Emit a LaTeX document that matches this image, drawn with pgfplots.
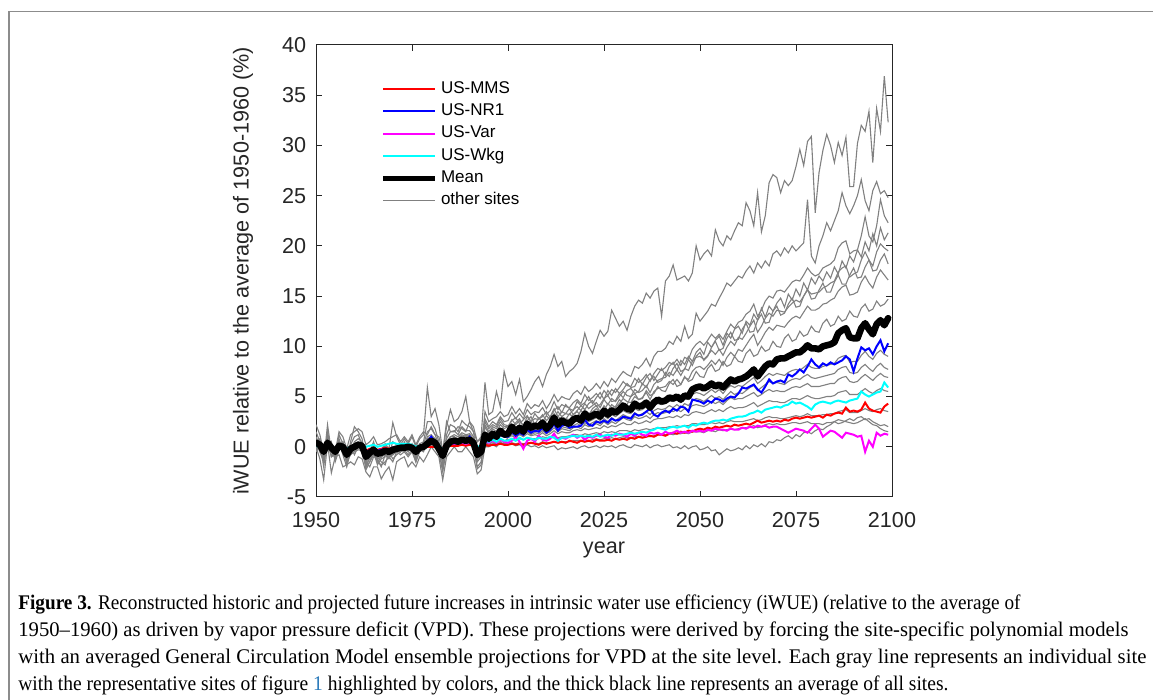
\documentclass[border=0pt]{standalone}
\usepackage{fontspec}
\setmainfont{Liberation Sans}
\newfontfamily\capfont{Liberation Serif}
\usepackage{graphicx}
\usepackage{pgfplots}
\usepackage{pgfplotstable}
\pgfplotsset{compat=1.18}
\definecolor{axgray}{RGB}{38,38,38}
\definecolor{linegray}{RGB}{128,128,128}
\definecolor{framegray}{RGB}{140,140,140}
\definecolor{linkblue}{RGB}{40,120,185}
\definecolor{cRed}{RGB}{255,0,0}
\definecolor{cBlue}{RGB}{0,0,255}
\definecolor{cMag}{RGB}{255,0,255}
\definecolor{cCyan}{RGB}{0,255,255}

% rows = series, columns = years (transposed below)
\pgfplotstableread[header=has colnames]{
name 1950 1951 1952 1953 1954 1955 1956 1957 1958 1959 1960 1961 1962 1963 1964 1965 1966 1967 1968 1969 1970 1971 1972 1973 1974 1975 1976 1977 1978 1979 1980 1981 1982 1983 1984 1985 1986 1987 1988 1989 1990 1991 1992 1993 1994 1995 1996 1997 1998 1999 2000 2001 2002 2003 2004 2005 2006 2007 2008 2009 2010 2011 2012 2013 2014 2015 2016 2017 2018 2019 2020 2021 2022 2023 2024 2025 2026 2027 2028 2029 2030 2031 2032 2033 2034 2035 2036 2037 2038 2039 2040 2041 2042 2043 2044 2045 2046 2047 2048 2049 2050 2051 2052 2053 2054 2055 2056 2057 2058 2059 2060 2061 2062 2063 2064 2065 2066 2067 2068 2069 2070 2071 2072 2073 2074 2075 2076 2077 2078 2079 2080 2081 2082 2083 2084 2085 2086 2087 2088 2089 2090 2091 2092 2093 2094 2095 2096 2097 2098 2099
g1 1.5 0.5 -1.5 2.2 -0.5 -1.0 1.2 0.3 -1.8 0.5 2.0 1.5 0.8 -1.5 -0.5 0.5 -1.0 -0.3 0.3 -0.2 2.4 1.0 0.2 0.8 0.3 1.0 0.0 0.8 1.2 5.9 3.0 3.8 2.2 -0.5 2.0 3.7 2.5 2.8 3.5 5.0 2.5 2.0 0.5 1.0 6.4 3.2 3.5 5.5 4.0 7.5 6.0 6.5 5.2 6.7 4.5 5.0 5.7 6.5 7.0 6.0 7.2 8.0 9.2 8.0 8.5 7.0 7.5 7.8 8.3 9.5 11.3 10.0 9.3 10.5 11.6 11.0 11.5 13.6 12.8 12.0 12.5 11.6 13.0 14.0 14.6 14.3 15.3 14.8 15.5 15.8 13.0 16.5 17.0 18.1 16.6 16.8 17.0 16.5 17.3 20.0 18.6 19.2 19.6 19.0 21.6 20.5 20.0 21.0 20.6 21.5 22.3 22.0 24.3 23.5 22.0 25.3 21.4 23.0 26.3 27.1 26.8 25.3 26.5 26.0 26.5 27.9 29.6 28.0 30.4 30.9 23.3 27.3 29.5 31.1 30.0 28.3 30.3 29.0 30.8 25.9 25.9 30.2 32.0 31.4 33.4 28.3 33.7 31.4 36.9 32.3
g2 1.0 0.2 -1.2 1.5 -0.3 -1.2 0.8 -0.5 -1.5 0.2 1.0 1.2 0.2 -2.0 -1.0 0.3 -1.5 -1.0 -0.5 -0.8 0.5 0.2 -0.5 0.5 -0.2 0.3 -1.0 0.3 0.5 2.5 2.5 1.8 0.5 -1.5 1.2 2.2 2.0 1.5 2.6 2.2 2.0 1.5 -1.0 -0.5 3.5 2.5 2.8 3.0 3.5 3.0 3.2 4.0 3.3 3.8 3.2 4.3 3.8 4.2 4.0 4.6 3.8 4.4 5.2 4.5 5.0 4.8 4.7 5.3 5.6 5.2 6.0 5.5 5.8 6.3 5.8 6.5 6.0 6.8 6.4 7.0 7.5 7.2 7.0 8.0 7.8 8.2 8.8 8.0 9.0 9.5 9.5 9.8 10.5 10.2 11.0 10.5 12.0 10.8 11.2 13.3 12.5 13.0 13.5 14.2 14.0 14.8 15.5 16.3 16.0 16.5 17.0 16.8 17.5 18.0 17.3 18.3 17.8 18.5 18.0 19.2 19.5 19.0 19.8 19.3 20.0 19.5 19.9 20.3 24.6 19.0 18.3 20.0 21.0 22.3 21.5 22.5 23.5 25.3 24.0 23.2 24.0 25.0 26.6 24.5 23.5 25.5 26.4 25.2 25.5 24.8
g3 0.8 0.5 -2.0 1.0 -1.0 -0.8 0.5 -0.8 -2.0 -0.5 0.5 0.8 0.5 -2.3 -1.5 -0.5 -1.8 -1.2 -1.0 -1.0 -0.8 -0.5 -0.3 0.0 -0.5 0.0 -1.2 -0.2 0.2 1.5 1.8 1.2 0.2 -1.8 0.8 1.5 1.6 1.2 2.0 1.6 1.6 1.0 -1.5 -1.0 2.8 2.0 2.5 2.2 3.0 2.5 2.6 3.4 2.8 3.3 2.8 3.7 3.2 3.5 3.4 3.9 3.2 3.6 4.5 3.7 4.2 4.0 3.9 4.4 4.7 4.3 5.2 4.6 4.9 5.3 4.8 5.6 5.1 5.7 5.4 5.9 6.5 6.1 6.0 6.8 6.4 6.7 7.2 6.5 7.3 7.8 7.6 7.9 8.4 8.2 8.7 8.1 8.9 8.7 9.7 10.2 10.5 10.1 10.6 11.2 10.8 11.2 10.7 11.5 12.2 11.8 12.4 12.6 13.2 13.5 14.2 13.0 13.6 14.5 15.0 14.8 15.5 15.6 15.4 15.9 16.4 16.6 16.5 17.1 17.8 17.3 17.0 17.2 17.8 18.0 18.2 18.6 19.8 20.3 20.5 19.2 19.5 19.6 21.0 22.9 21.0 20.4 22.0 24.6 23.0 22.3
g4 0.5 0.8 -1.0 0.8 0.2 -1.2 0.2 0.5 -1.2 -0.2 0.3 0.5 -0.2 -1.8 -1.2 -0.8 -1.3 -2.0 -0.8 -1.2 -0.5 -0.2 0.2 -0.5 0.3 -0.5 -0.8 0.2 -0.3 1.0 1.2 0.8 -0.3 -1.2 0.5 1.0 1.2 1.0 1.4 1.2 1.3 0.8 -1.2 -0.7 2.2 1.5 2.0 1.8 2.5 2.0 2.0 2.6 2.9 2.3 2.7 3.1 2.5 3.3 2.8 3.0 3.5 2.9 3.6 4.0 3.4 4.2 3.8 3.6 4.5 4.1 4.4 5.0 4.3 4.9 5.4 4.7 5.6 5.1 5.8 5.3 5.7 6.3 5.9 6.0 6.8 6.2 6.9 7.3 6.6 7.2 7.8 7.1 8.0 8.4 7.6 8.6 8.2 9.0 8.5 9.4 9.8 9.2 10.4 9.9 10.6 11.0 10.1 11.3 10.8 11.7 12.0 11.3 12.5 12.1 13.2 12.6 13.8 12.9 14.0 13.5 14.3 14.8 13.9 15.2 14.6 15.7 15.0 16.3 15.6 16.8 16.2 17.0 16.5 17.4 16.8 17.9 17.2 18.5 17.8 19.0 18.4 19.6 18.9 20.4 19.5 21.2 20.0 21.8 20.6 21.3
g5 -0.5 0.2 -0.8 -0.2 0.5 -1.5 -0.3 0.2 -1.0 -0.8 -0.5 0.2 -0.5 -1.5 -2.0 -1.0 -1.0 -1.5 -1.8 -0.5 -1.2 -0.8 -0.5 -0.3 -0.8 -0.3 -1.5 -0.5 -0.2 0.8 1.0 0.6 -0.5 -2.2 0.2 1.0 1.0 0.8 1.2 1.0 1.2 0.6 -2.0 -1.5 2.0 1.3 1.8 1.5 2.2 1.8 2.0 2.7 2.2 2.6 2.1 3.0 2.5 2.8 2.7 3.2 2.6 3.0 3.8 3.0 3.5 3.3 3.2 3.7 4.0 3.6 4.3 3.8 4.1 4.4 3.9 4.7 4.2 4.8 4.5 5.0 5.5 5.1 5.0 5.7 5.4 5.6 6.1 5.4 6.2 6.6 6.8 6.9 7.4 7.1 7.7 7.1 7.8 7.6 8.5 8.9 9.0 8.7 9.1 9.6 9.2 9.7 9.1 9.9 10.5 10.1 10.9 10.7 11.3 12.0 12.6 11.4 12.0 12.8 13.3 13.0 13.6 13.5 13.4 13.9 14.3 14.6 14.4 15.0 15.6 15.2 15.3 15.4 15.8 16.0 16.3 16.5 17.4 17.8 18.0 16.9 17.2 17.4 18.6 19.4 18.6 18.0 19.4 20.2 19.8 19.5
g6 2.2 1.2 -0.5 1.0 0.2 -0.5 1.5 1.0 -0.2 1.2 1.5 1.8 1.5 0.2 0.5 1.0 0.2 0.3 0.5 0.8 1.0 1.2 0.5 1.0 0.5 1.2 0.2 1.0 1.5 1.2 2.0 1.2 1.0 -0.5 2.5 1.5 1.5 2.0 1.8 1.5 2.5 1.5 0.5 0.8 2.5 1.8 2.2 2.0 2.8 2.2 2.1 1.7 2.4 2.8 2.0 2.6 3.0 2.2 2.9 2.5 3.1 2.7 2.9 3.5 3.0 3.3 3.8 3.2 3.6 4.1 3.7 4.3 4.6 4.0 4.2 4.8 5.1 4.5 4.6 5.3 4.9 5.6 5.8 5.3 5.5 6.3 5.9 6.7 7.0 6.4 6.6 7.4 7.0 7.8 8.3 7.5 7.7 8.7 8.1 9.0 9.4 8.6 9.0 9.9 10.5 9.6 9.8 10.8 11.4 10.6 10.7 11.7 12.3 11.4 11.5 12.6 13.2 12.3 12.4 13.5 14.0 13.1 13.3 14.2 14.8 13.9 14.0 15.0 15.7 14.7 14.8 15.6 16.3 15.4 15.4 16.4 17.1 16.2 16.2 17.1 17.8 16.8 16.9 17.9 18.6 17.5 17.6 18.6 19.2 18.2
g7 0.0 -1.2 -3.3 0.3 -2.6 -1.0 -0.8 -2.0 -1.8 -1.5 -1.8 -1.0 -1.2 -2.5 -3.0 -2.0 -2.0 -3.2 -2.5 -2.0 -3.3 -1.5 -1.2 -1.0 -2.0 -1.5 -2.0 -1.0 -1.5 -0.8 0.0 -0.5 -1.0 -3.3 -1.0 -0.5 0.0 -0.5 -0.5 0.0 -0.5 -1.0 -2.7 -2.3 0.0 0.0 0.2 0.0 0.5 0.2 1.0 1.8 1.4 1.9 1.5 2.3 1.9 2.2 2.1 2.6 2.1 2.5 3.3 2.5 3.0 2.8 2.7 3.2 3.5 3.1 3.7 3.3 3.5 3.8 3.4 4.1 3.6 4.2 3.9 4.3 4.8 4.5 4.4 5.0 4.7 4.9 5.4 4.7 5.5 5.8 5.9 6.0 6.5 6.2 6.7 6.2 6.9 6.7 7.5 7.9 8.0 7.7 8.1 8.6 8.2 8.7 8.1 8.9 9.4 9.0 9.7 9.5 10.1 10.7 11.2 10.1 10.7 11.4 11.9 11.6 12.1 12.0 11.9 12.4 12.8 13.0 12.8 13.4 14.0 13.6 13.6 13.8 14.2 14.3 14.6 14.8 15.5 15.9 16.1 15.1 15.2 15.4 16.4 17.0 16.3 15.8 16.9 17.6 17.1 16.6
g8 0.8 -0.5 -1.5 0.5 -1.0 -0.5 0.5 -0.2 -1.5 -0.8 -0.2 0.0 -0.5 -2.0 -1.5 -0.8 -1.5 -1.8 -1.5 -1.0 -1.5 -0.5 -0.8 -0.5 -1.0 -0.5 -1.5 -0.3 -0.5 0.5 0.5 0.2 -0.5 -2.5 -0.3 0.3 0.5 0.2 0.8 0.5 0.5 0.0 -2.2 -1.8 1.2 0.8 1.2 1.0 1.5 1.0 1.5 1.2 1.8 2.1 1.6 1.9 2.5 2.0 2.2 2.7 2.3 2.1 2.8 3.1 2.5 2.7 3.3 2.9 3.0 3.6 3.2 3.1 3.8 4.1 3.5 3.6 4.3 3.9 4.0 4.7 4.3 4.2 5.0 5.3 4.7 4.8 5.6 5.1 5.3 6.0 5.6 5.5 6.3 6.7 6.0 6.2 7.0 6.5 6.7 7.5 7.0 6.9 7.8 8.2 7.5 7.7 8.5 8.0 8.2 9.0 8.5 8.4 9.3 9.7 9.0 9.2 10.0 9.5 9.7 10.5 10.0 9.9 10.8 11.2 10.5 10.7 11.5 11.0 11.2 12.0 11.5 11.4 12.3 12.7 12.0 12.2 13.0 12.5 12.7 13.5 13.0 12.9 13.8 14.2 13.5 13.7 14.5 14.0 14.2 14.7
g9 0.3 -0.3 -1.0 0.5 -0.5 -0.8 0.3 -0.3 -1.2 -0.3 0.2 0.4 0.0 -1.2 -0.8 -0.4 -0.9 -0.8 -0.5 -0.6 -0.3 -0.2 -0.1 0.0 -0.3 -0.1 -0.7 0.0 0.1 0.8 0.9 0.6 -0.2 -1.3 0.3 0.7 0.8 0.7 1.0 0.8 0.9 0.5 -1.2 -0.8 1.5 1.0 1.5 1.2 1.8 1.4 1.3 1.6 1.2 1.5 1.3 1.8 1.5 1.7 1.6 2.0 1.6 1.9 2.3 1.9 2.2 2.1 2.0 2.4 2.6 2.3 2.8 2.5 2.7 2.9 2.6 3.1 2.8 3.2 3.0 3.3 3.6 3.4 3.3 3.8 3.6 3.7 4.0 3.6 4.1 4.3 4.2 4.3 4.6 4.5 4.7 4.4 4.8 4.7 5.2 5.4 5.3 5.1 5.4 5.7 5.4 5.7 5.3 5.8 6.1 5.9 6.1 6.0 6.3 6.6 6.9 6.3 6.6 7.0 7.3 7.1 7.3 7.2 7.1 7.4 7.6 7.7 7.6 7.9 8.2 7.9 7.8 7.8 8.0 8.1 8.2 8.3 8.8 9.0 9.1 8.4 8.5 8.5 9.1 9.5 9.0 8.7 9.3 9.6 9.2 9.0
g10 -0.5 0.5 -1.5 0.0 0.2 -1.0 -0.2 0.5 -0.8 0.0 -0.8 0.0 0.3 -0.5 -1.0 0.0 -0.5 -1.0 0.2 -0.5 -0.8 0.0 -0.5 0.3 -0.5 0.2 -0.8 0.2 -0.2 0.5 0.3 0.8 0.0 -0.8 0.5 0.3 1.0 0.5 0.8 1.2 0.6 0.2 -0.8 -0.5 1.0 0.6 1.2 0.8 1.3 1.0 1.0 1.4 1.1 1.5 1.2 1.6 1.3 1.7 1.5 1.8 1.5 1.8 2.2 1.7 2.0 1.9 1.8 2.1 2.3 2.1 2.4 2.2 2.4 2.6 2.3 2.8 2.5 2.9 2.6 2.9 3.2 3.0 2.9 3.4 3.1 3.3 3.5 3.2 3.6 3.8 3.7 3.8 4.1 3.9 4.2 3.9 4.3 4.1 4.6 4.8 4.7 4.5 4.8 5.1 4.8 5.0 4.7 5.1 5.5 5.2 5.4 5.3 5.6 5.9 6.1 5.6 5.9 6.2 6.5 6.3 6.4 6.3 6.2 6.5 6.7 6.8 6.7 7.0 7.2 6.9 6.8 6.9 7.0 7.1 7.2 7.3 7.7 7.9 8.0 7.4 7.3 7.4 7.9 8.2 7.8 7.5 8.0 8.3 7.9 7.7
g11 0.2 0.0 -0.6 0.3 -0.2 -0.6 0.1 -0.1 -0.9 -0.3 -0.1 0.2 0.0 -1.0 -0.7 -0.4 -0.8 -0.7 -0.5 -0.6 -0.4 -0.3 -0.2 -0.1 -0.1 -0.2 -0.6 -0.2 -0.1 0.3 0.5 0.3 -0.3 -1.0 0.0 0.4 0.5 0.4 0.6 0.5 0.6 0.3 -0.9 -0.6 1.0 0.7 1.0 0.8 1.3 1.0 1.0 1.3 1.0 1.3 1.1 1.5 1.2 1.4 1.3 1.6 1.3 1.5 1.9 1.5 1.8 1.7 1.6 1.9 2.0 1.8 2.2 2.0 2.1 2.3 2.1 2.5 2.2 2.5 2.3 2.6 2.9 2.7 2.6 3.0 2.8 2.9 3.1 2.8 3.2 3.4 3.3 3.4 3.6 3.5 3.7 3.5 3.8 3.7 4.1 4.2 4.1 4.0 4.2 4.5 4.3 4.5 4.2 4.6 4.9 4.7 4.8 4.8 5.0 5.2 5.4 5.0 5.2 5.5 5.7 5.5 5.6 5.5 5.5 5.7 5.9 6.0 5.9 6.1 6.3 6.0 6.0 6.0 6.1 6.2 6.3 6.3 6.7 6.9 7.0 6.5 6.4 6.5 6.9 7.2 6.9 6.6 7.0 7.3 7.0 6.9
g12 0.5 0.3 -0.8 0.8 0.0 -0.5 0.4 0.2 -0.8 0.1 0.3 0.5 0.2 -0.8 -0.3 0.0 -0.5 -0.3 -0.1 -0.2 0.0 0.1 0.1 0.2 0.1 0.1 -0.3 0.1 0.3 0.7 0.8 0.6 0.0 -0.8 0.4 0.7 0.8 0.6 0.9 0.8 0.8 0.5 -0.6 -0.3 1.2 0.8 1.1 0.9 1.3 1.0 0.9 1.1 0.9 1.2 1.0 1.3 1.1 1.2 1.1 1.4 1.1 1.3 1.6 1.3 1.5 1.4 1.4 1.6 1.7 1.6 1.8 1.7 1.8 1.9 1.8 2.1 1.9 2.1 2.0 2.2 2.4 2.2 2.2 2.5 2.3 2.4 2.6 2.4 2.7 2.8 2.8 2.9 3.0 2.9 3.1 2.9 3.2 3.1 3.4 3.5 3.4 3.3 3.5 3.7 3.5 3.7 3.5 3.8 4.0 3.8 3.9 3.9 4.0 4.2 4.4 4.0 4.2 4.4 4.6 4.5 4.5 4.4 4.4 4.6 4.8 4.8 4.7 4.9 5.1 4.9 4.8 4.8 4.9 5.0 5.0 5.1 5.4 5.5 5.6 5.2 5.2 5.2 5.5 5.8 5.5 5.3 5.6 5.8 5.6 5.5
g13 0.2 0.0 -0.4 0.2 0.1 -0.3 0.0 0.0 -0.5 -0.1 0.0 0.1 0.0 -0.6 -0.4 -0.2 -0.5 -0.4 -0.3 -0.3 -0.2 -0.1 -0.1 0.0 0.0 -0.1 -0.3 -0.1 0.0 0.2 0.3 0.2 -0.1 -0.6 0.1 0.2 0.3 0.3 0.4 0.3 0.4 0.2 -0.5 -0.3 0.6 0.4 0.6 0.5 0.8 0.6 0.7 0.8 0.6 0.8 0.7 0.9 0.8 0.8 0.8 1.0 0.9 1.0 1.1 0.9 1.0 1.0 1.1 1.2 1.2 1.1 1.3 1.2 1.3 1.4 1.3 1.5 1.4 1.5 1.4 1.6 1.6 1.6 1.5 1.7 1.6 1.7 1.8 1.7 1.8 1.9 1.9 1.9 2.0 2.0 2.1 2.0 2.1 2.1 2.3 2.3 2.2 2.2 2.3 2.4 2.3 2.4 2.3 2.5 2.6 2.5 2.5 2.5 2.6 2.7 2.8 2.6 2.7 2.9 3.0 2.9 2.9 2.8 2.8 2.9 3.0 3.1 3.0 3.1 3.3 3.1 3.1 3.1 3.2 3.2 3.3 3.3 3.5 3.6 3.7 3.4 3.4 3.4 3.6 3.8 3.6 3.5 3.7 3.8 3.6 3.5
g14 0.0 -0.2 -0.3 0.0 -0.1 -0.2 -0.1 -0.1 -0.3 -0.2 -0.1 0.0 -0.1 -0.4 -0.3 -0.2 -0.3 -0.3 -0.2 -0.2 -0.1 -0.1 0.0 0.0 0.0 0.0 -0.2 0.0 0.0 0.1 0.2 0.1 0.0 -0.3 0.0 0.1 0.2 0.1 0.2 0.2 0.2 0.1 -0.2 -0.1 0.3 0.2 0.3 0.3 0.4 0.3 0.3 0.4 0.3 0.4 0.3 0.4 0.4 0.4 0.3 0.5 0.4 0.4 0.5 0.4 0.5 0.5 0.5 0.6 0.6 0.6 0.7 0.6 0.7 0.8 0.7 0.8 0.8 0.9 0.8 0.9 1.0 0.9 0.9 1.0 1.0 1.1 1.1 1.0 1.1 1.2 1.2 1.2 1.3 1.2 1.3 1.3 1.4 1.3 1.5 1.5 1.5 1.4 1.6 1.6 1.5 1.7 1.6 1.7 1.8 1.7 1.8 1.9 1.9 2.0 2.1 1.9 2.0 2.2 2.3 2.2 2.3 2.2 2.2 2.3 2.4 2.4 2.3 2.4 2.5 2.3 2.3 2.3 2.2 2.4 2.4 2.5 2.7 2.6 2.5 2.4 2.3 2.4 2.6 2.8 2.5 2.2 2.1 1.8 1.6 1.5
g15 0.5 -0.5 -1.0 0.3 -0.8 -0.5 0.0 -0.5 -1.0 -0.6 -0.5 -0.3 -0.4 -1.5 -1.0 -0.7 -1.2 -1.0 -0.8 -0.9 -0.6 -0.5 -0.4 -0.4 -0.3 -0.4 -0.8 -0.4 -0.3 0.0 0.2 0.0 -0.5 -1.2 -0.2 0.1 0.2 0.1 0.3 0.2 0.3 0.0 -1.0 -0.8 0.5 0.2 0.5 0.3 0.7 0.4 0.2 0.3 0.1 0.2 0.0 0.2 0.0 0.1 -0.1 0.1 -0.1 0.0 0.1 -0.3 -0.1 -0.2 -0.1 0.0 -0.2 0.0 0.1 -0.1 0.0 0.1 -0.1 0.1 0.0 0.1 -0.1 0.1 0.2 0.0 -0.1 0.2 0.1 0.0 0.2 -0.1 0.1 0.2 0.0 0.1 0.2 -0.1 0.0 -0.2 0.1 -0.2 0.0 0.1 -0.3 -0.2 0.0 -0.4 -0.3 -0.8 -0.5 -0.2 -0.4 -0.3 -0.1 -0.3 0.1 -0.2 0.2 0.0 0.3 0.0 0.5 0.4 0.7 0.6 0.9 1.1 0.8 1.2 1.0 1.4 1.5 1.3 1.6 1.8 1.7 2.0 2.2 2.5 2.3 2.4 2.6 2.8 2.6 2.9 3.0 2.7 2.8 2.5 2.3 2.1 2.2 2.0
}\grayraw
\pgfplotstabletranspose[colnames from=name,input colnames to=year]\grayT\grayraw

\pgfplotstableread[header=has colnames]{
name 1950 1951 1952 1953 1954 1955 1956 1957 1958 1959 1960 1961 1962 1963 1964 1965 1966 1967 1968 1969 1970 1971 1972 1973 1974 1975 1976 1977 1978 1979 1980 1981 1982 1983 1984 1985 1986 1987 1988 1989 1990 1991 1992 1993 1994 1995 1996 1997 1998 1999 2000 2001 2002 2003 2004 2005 2006 2007 2008 2009 2010 2011 2012 2013 2014 2015 2016 2017 2018 2019 2020 2021 2022 2023 2024 2025 2026 2027 2028 2029 2030 2031 2032 2033 2034 2035 2036 2037 2038 2039 2040 2041 2042 2043 2044 2045 2046 2047 2048 2049 2050 2051 2052 2053 2054 2055 2056 2057 2058 2059 2060 2061 2062 2063 2064 2065 2066 2067 2068 2069 2070 2071 2072 2073 2074 2075 2076 2077 2078 2079 2080 2081 2082 2083 2084 2085 2086 2087 2088 2089 2090 2091 2092 2093 2094 2095 2096 2097 2098 2099
mms 0.3 0.1 -0.2 0.2 0.0 -0.2 0.1 0.0 -0.3 -0.1 0.0 0.1 0.0 -0.4 -0.2 -0.1 -0.3 -0.2 -0.1 -0.2 -0.1 0.0 0.0 0.0 0.0 0.0 -0.1 0.0 0.0 0.0 0.0 0.0 0.0 -0.1 0.0 0.1 0.1 0.1 0.2 0.1 0.2 0.1 -0.1 0.0 0.2 0.1 0.2 0.2 0.3 0.2 0.2 0.3 0.2 0.3 0.2 0.3 0.4 0.3 0.2 0.4 0.3 0.4 0.5 0.4 0.5 0.4 0.6 0.5 0.4 0.6 0.5 0.6 0.5 0.7 0.6 0.6 0.7 0.6 0.8 0.7 0.8 0.7 0.9 0.8 1.0 0.9 1.0 1.1 1.0 1.2 1.2 1.1 1.3 1.4 1.3 1.5 1.4 1.6 1.5 1.7 1.8 1.7 1.9 1.8 2.0 1.9 2.0 2.1 2.0 2.2 2.1 2.2 2.3 2.2 2.4 2.6 2.4 2.5 2.6 2.5 2.6 2.5 2.7 2.6 2.8 2.9 2.8 2.9 3.0 2.9 3.0 3.1 2.9 3.2 3.1 3.3 3.4 3.3 3.9 3.5 3.6 3.5 3.7 4.4 3.8 3.6 3.5 3.4 4.0 4.3
nr1 0.3 0.2 -0.3 0.3 0.0 -0.3 0.1 0.0 -0.5 -0.1 0.0 0.2 0.1 -0.6 -0.3 -0.2 -0.4 -0.3 -0.2 -0.3 -0.1 -0.1 0.0 0.0 0.1 0.0 -0.3 0.0 0.1 0.5 1.0 0.5 0.0 -0.5 0.2 0.5 0.6 0.5 0.7 0.6 1.0 0.4 -0.5 -0.3 0.9 0.6 1.0 0.8 1.2 1.0 1.0 1.5 1.1 1.4 1.2 1.7 1.4 1.6 1.5 1.9 1.4 1.7 2.3 1.6 2.1 2.2 1.9 2.0 2.0 2.1 2.7 2.2 2.1 2.5 2.4 2.6 2.4 2.8 2.6 2.7 3.0 2.9 2.8 3.3 3.1 3.2 3.5 3.8 3.2 3.0 3.4 3.6 3.4 3.8 3.6 4.0 3.9 3.5 4.7 4.6 4.5 4.3 4.6 4.4 4.8 4.7 4.5 4.8 5.0 4.9 5.3 5.9 5.8 6.0 6.2 5.7 5.4 6.0 6.7 6.3 6.5 6.6 6.4 7.2 7.0 7.3 7.7 7.4 8.0 8.7 8.2 7.9 8.3 8.1 8.4 8.2 8.4 8.6 9.0 8.7 7.5 8.8 9.9 9.6 9.8 9.2 10.0 10.6 9.5 10.3
var 0.2 0.1 -0.3 0.2 0.0 -0.3 0.0 -0.1 -0.4 -0.1 0.0 0.1 0.0 -0.5 -0.4 -0.2 -0.5 -0.3 -0.2 -0.3 -0.1 0.0 0.0 0.0 0.0 0.0 -0.2 0.0 0.0 0.2 0.4 0.2 0.0 -0.3 0.1 0.3 0.3 0.3 0.4 0.3 0.4 0.2 -0.2 -0.1 0.5 0.4 0.6 0.4 0.7 0.5 0.4 0.6 1.0 0.5 -0.2 0.6 0.8 0.5 1.1 0.7 0.6 0.8 1.3 0.7 0.9 0.8 1.0 1.2 0.9 1.1 0.7 1.0 0.9 1.1 1.2 1.0 0.9 1.2 1.1 1.3 1.2 1.0 1.3 1.1 1.4 1.2 1.1 1.4 1.3 1.4 1.2 1.5 1.3 1.4 1.6 1.4 1.5 1.4 1.6 1.5 1.6 1.5 1.7 1.6 1.8 1.7 1.7 1.6 1.8 1.7 1.7 1.9 1.8 2.0 1.9 2.1 2.0 2.1 1.9 2.0 2.0 1.8 1.6 1.4 1.6 1.8 1.7 1.6 1.4 1.8 2.2 1.8 1.0 1.3 1.6 1.5 1.2 0.9 1.4 1.3 1.2 1.0 1.1 -0.5 0.6 0.0 1.4 1.1 1.3 1.2
wkg 0.1 0.0 -0.3 0.1 0.0 -0.2 0.1 0.1 -0.2 0.0 0.1 0.3 0.2 0.0 0.1 0.2 0.0 0.1 0.2 0.3 0.4 0.3 0.3 0.3 0.3 0.2 0.0 0.1 0.1 0.3 0.5 0.3 0.1 -0.2 0.2 0.3 0.4 0.3 0.5 0.4 0.5 0.3 0.0 0.1 0.6 0.5 0.7 0.5 0.8 0.6 0.6 0.8 0.6 0.9 0.7 0.9 0.8 0.7 0.9 0.8 0.8 1.0 0.9 0.6 0.9 0.9 1.0 1.1 1.0 1.1 1.0 1.1 1.0 1.2 1.0 1.1 1.2 1.1 1.3 1.2 1.2 1.3 1.4 1.3 1.4 1.5 1.4 1.6 1.7 1.9 1.8 1.7 1.9 2.0 1.9 2.0 2.1 1.9 2.2 2.1 2.3 2.4 2.3 2.5 2.6 2.6 2.7 2.6 2.8 2.9 3.0 3.0 3.1 3.3 3.4 3.6 3.4 3.7 3.8 3.9 4.0 3.9 4.1 4.2 4.5 4.3 4.4 4.2 4.0 3.7 4.2 4.4 4.5 4.4 4.3 4.5 4.6 4.5 4.4 4.6 4.7 4.8 5.5 5.2 5.0 5.2 5.4 5.5 6.4 5.9
mean 0.4 0.2 -0.5 0.4 -0.1 -0.5 0.1 0.0 -0.8 -0.2 0.0 0.2 0.1 -1.0 -0.6 -0.3 -0.7 -0.6 -0.4 -0.5 -0.3 -0.2 -0.1 -0.1 0.0 -0.1 -0.5 -0.1 0.0 0.3 0.6 0.4 -0.2 -0.9 0.1 0.5 0.6 0.5 0.7 0.6 0.7 0.4 -0.8 -0.5 1.2 0.8 1.3 1.0 1.6 1.2 1.3 2.0 1.5 1.9 1.5 2.3 1.9 2.1 2.0 2.4 1.8 2.2 2.9 2.2 2.6 2.4 2.3 2.7 2.9 2.6 3.3 2.9 3.1 3.3 3.0 3.6 3.2 3.6 3.4 3.7 4.1 3.8 3.7 4.3 4.0 4.1 4.4 3.9 4.4 4.7 4.5 4.6 4.9 4.8 5.0 4.7 5.1 5.0 5.7 5.9 6.0 5.8 6.0 6.3 6.0 6.2 5.9 6.3 6.7 6.5 6.7 6.8 7.0 7.3 7.7 7.0 7.5 8.0 8.3 8.2 8.7 8.8 8.8 9.0 9.2 9.4 9.4 9.7 10.1 9.8 9.8 9.7 10.0 10.1 10.2 10.4 11.3 11.6 11.8 10.9 10.8 10.8 11.8 12.3 11.7 11.2 12.2 12.6 12.1 12.8
}\siteraw
\pgfplotstabletranspose[colnames from=name,input colnames to=year]\siteT\siteraw

\begin{document}
\begin{tikzpicture}
\useasboundingbox (0pt,0pt) rectangle (576.5pt,350pt);
\draw[framegray, line width=0.8pt] (4.4pt,-2pt) -- (4.4pt,344.2pt) -- (580pt,344.2pt);
\begin{axis}[
  at={(158pt,101.5pt)}, anchor=south west,
  scale only axis, width=288pt, height=226pt,
  xmin=1950, xmax=2100, ymin=-5, ymax=40,
  xtick={1950,1975,2000,2025,2050,2075,2100},
  ytick={-5,0,5,10,15,20,25,30,35,40},
  tick align=inside, major tick length=3pt,
  axis line style={axgray, line width=0.5pt},
  every tick/.style={axgray, line width=0.5pt},
  /pgf/number format/assume math mode=true,
  /pgf/number format/1000 sep={},
  tick label style={font=\fontsize{10.8}{12}\selectfont, text=axgray},
  xticklabel style={yshift=-4.4pt},
  yticklabel style={xshift=-1.4pt},
  xlabel={year},
  ylabel={iWUE relative to the average of 1950-1960 (\%)},
  label style={font=\fontsize{10.8}{12}\selectfont, text=axgray},
  xlabel style={at={(axis description cs:0.5,-0.117)}, anchor=center},
  ylabel style={at={(axis description cs:-0.1267,0.5)}, anchor=center},
  legend cell align=left,
  legend style={draw=none, fill=none, at={(0.1125,0.927)}, anchor=north west,
    font=\fontsize{8.5}{10.2}\selectfont, text=black,
    inner sep=0pt, outer sep=0pt, row sep=0pt, column sep=1.5pt,
    nodes={inner sep=0pt, text height=7.6pt, text depth=3.55pt}},
  legend image code/.code={\draw[#1] (0pt,0pt) -- (26pt,0pt);},
]
\addlegendimage{cRed, line width=1pt}\addlegendentry{US-MMS}
\addlegendimage{cBlue, line width=1pt}\addlegendentry{US-NR1}
\addlegendimage{cMag, line width=1pt}\addlegendentry{US-Var}
\addlegendimage{cCyan, line width=1pt}\addlegendentry{US-Wkg}
\addlegendimage{black, line width=2.6pt}\addlegendentry{Mean}
\addlegendimage{linegray, line width=0.6pt}\addlegendentry{other sites}

\pgfplotsinvokeforeach{1,...,15}{
  \addplot[linegray, line width=0.55pt, forget plot] table[x=year, y=g#1] {\grayT};
}
\addplot[cRed, line width=1pt, forget plot] table[x=year, y=mms] {\siteT};
\addplot[cMag, line width=1pt, forget plot] table[x=year, y=var] {\siteT};
\addplot[cCyan, line width=1pt, forget plot] table[x=year, y=wkg] {\siteT};
\addplot[cBlue, line width=1pt, forget plot] table[x=year, y=nr1] {\siteT};
\addplot[black, line width=3.3pt, line join=round, line cap=round, forget plot] table[x=year, y=mean] {\siteT};
\end{axis}

\node[anchor=base west, inner sep=0pt] at (9pt,45pt) {\resizebox{501pt}{\height}{\capfont\fontsize{10.4}{11}\selectfont\textbf{Figure 3.} Reconstructed historic and projected future increases in intrinsic water use efficiency (iWUE) (relative to the average of}};
\node[anchor=base west, inner sep=0pt] at (9pt,31.5pt) {\resizebox{555pt}{\height}{\capfont\fontsize{10.4}{11}\selectfont 1950–1960) as driven by vapor pressure deficit (VPD). These projections were derived by forcing the site-specific polynomial models}};
\node[anchor=base west, inner sep=0pt] at (9pt,18pt) {\resizebox{564pt}{\height}{\capfont\fontsize{10.4}{11}\selectfont with an averaged General Circulation Model ensemble projections for VPD at the site level. Each gray line represents an individual site}};
\node[anchor=base west, inner sep=0pt] at (9pt,4.5pt) {\resizebox{465pt}{\height}{\capfont\fontsize{10.4}{11}\selectfont with the representative sites of figure {\color{linkblue}1} highlighted by colors, and the thick black line represents an average of all sites.}};
\end{tikzpicture}
\end{document}
